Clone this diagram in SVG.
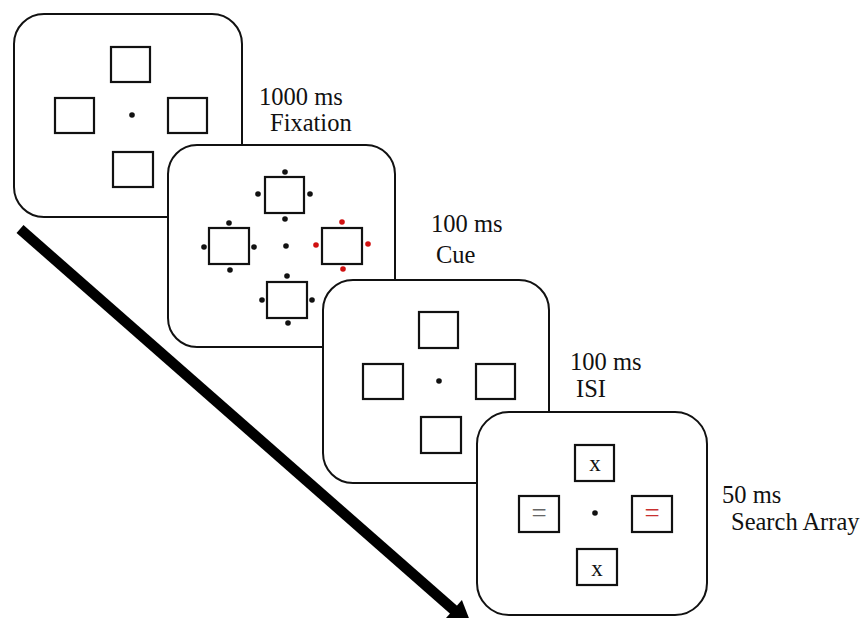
<svg xmlns="http://www.w3.org/2000/svg" width="865" height="618" viewBox="0 0 865 618">
  <style>
    .panel { fill: #fff; stroke: #111; stroke-width: 2; }
    .box { fill: #fff; stroke: #111; stroke-width: 2.2; }
    .fix { fill: #111; }
    .dot { fill: #111; }
    .red { fill: #d01010; }
    .label { font-family: "Liberation Serif", "Times New Roman", serif; font-size: 24.5px; fill: #111; }
    .glyph { font-family: "Liberation Serif", "Times New Roman", serif; font-size: 23px; fill: #111; text-anchor: middle; }
    .eq { font-family: "Liberation Serif", "Times New Roman", serif; font-size: 27px; text-anchor: middle; }
  </style>
  <rect width="865" height="618" fill="#fff"/>

  <!-- time arrow -->
  <g id="connectors">
    <line x1="20" y1="229" x2="455" y2="611" stroke="#000" stroke-width="10.5"/>
    <polygon points="472,626 444.7,619.5 461.9,599.9" fill="#000"/>
  </g>

  <!-- fixation display -->
  <g id="fixation">
    <rect class="panel" x="14" y="14" width="228" height="203" rx="30"/>
    <rect class="box" x="111" y="47" width="39" height="35"/>
    <rect class="box" x="55" y="98" width="39" height="35"/>
    <rect class="box" x="168" y="98" width="39" height="35"/>
    <rect class="box" x="113" y="152" width="40" height="35"/>
    <circle class="fix" cx="132" cy="115" r="2.8"/>
  </g>

  <!-- cue display -->
  <g id="cue">
    <rect class="panel" x="168" y="145" width="227" height="202" rx="29"/>
    <rect class="box" x="265" y="177" width="39" height="36"/>
    <rect class="box" x="209" y="228" width="40" height="36"/>
    <rect class="box" x="322" y="228" width="40" height="36"/>
    <rect class="box" x="267" y="282" width="40" height="36"/>
    <circle class="fix" cx="286" cy="246" r="2.8"/>
    <!-- top box dots -->
    <circle class="dot" cx="285" cy="172" r="2.8"/>
    <circle class="dot" cx="258" cy="194" r="2.8"/>
    <circle class="dot" cx="310" cy="194" r="2.8"/>
    <circle class="dot" cx="285" cy="219" r="2.8"/>
    <!-- left box dots -->
    <circle class="dot" cx="229" cy="223" r="2.8"/>
    <circle class="dot" cx="204" cy="247" r="2.8"/>
    <circle class="dot" cx="254" cy="247" r="2.8"/>
    <circle class="dot" cx="230" cy="270" r="2.8"/>
    <!-- right box dots (cued) -->
    <circle class="red" cx="342" cy="222" r="2.8"/>
    <circle class="red" cx="316" cy="245" r="2.8"/>
    <circle class="red" cx="368" cy="244" r="2.8"/>
    <circle class="red" cx="343" cy="269" r="2.8"/>
    <!-- bottom box dots -->
    <circle class="dot" cx="287" cy="276" r="2.8"/>
    <circle class="dot" cx="262" cy="300" r="2.8"/>
    <circle class="dot" cx="312" cy="300" r="2.8"/>
    <circle class="dot" cx="288" cy="323" r="2.8"/>
  </g>

  <!-- inter-stimulus interval display -->
  <g id="isi">
    <rect class="panel" x="323" y="280" width="226" height="203" rx="30"/>
    <rect class="box" x="419" y="312" width="39" height="36"/>
    <rect class="box" x="363" y="364" width="40" height="35"/>
    <rect class="box" x="476" y="364" width="39" height="35"/>
    <rect class="box" x="421" y="417" width="40" height="36"/>
    <circle class="fix" cx="439" cy="381" r="2.8"/>
  </g>

  <!-- search array display -->
  <g id="search">
    <rect class="panel" x="477" y="412" width="230" height="203" rx="32"/>
    <rect class="box" x="575" y="445" width="39" height="36"/>
    <rect class="box" x="519" y="496" width="40" height="36"/>
    <rect class="box" x="632" y="496" width="40" height="36"/>
    <rect class="box" x="577" y="549" width="40" height="36"/>
    <circle class="fix" cx="595" cy="513" r="2.8"/>
    <text class="glyph" x="595" y="471">x</text>
    <text class="glyph" x="597" y="576">x</text>
    <text class="eq" x="539" y="522" fill="#666">=</text>
    <text class="eq" x="652" y="522" fill="#c83030">=</text>
  </g>

  <!-- timing labels -->
  <g id="labels">
    <text class="label" x="259" y="105">1000 ms</text>
    <text class="label" x="270" y="131">Fixation</text>
    <text class="label" x="431" y="232">100 ms</text>
    <text class="label" x="436" y="263">Cue</text>
    <text class="label" x="570" y="370">100 ms</text>
    <text class="label" x="576" y="397">ISI</text>
    <text class="label" x="722" y="503">50 ms</text>
    <text class="label" x="731" y="530">Search Array</text>
  </g>
</svg>
